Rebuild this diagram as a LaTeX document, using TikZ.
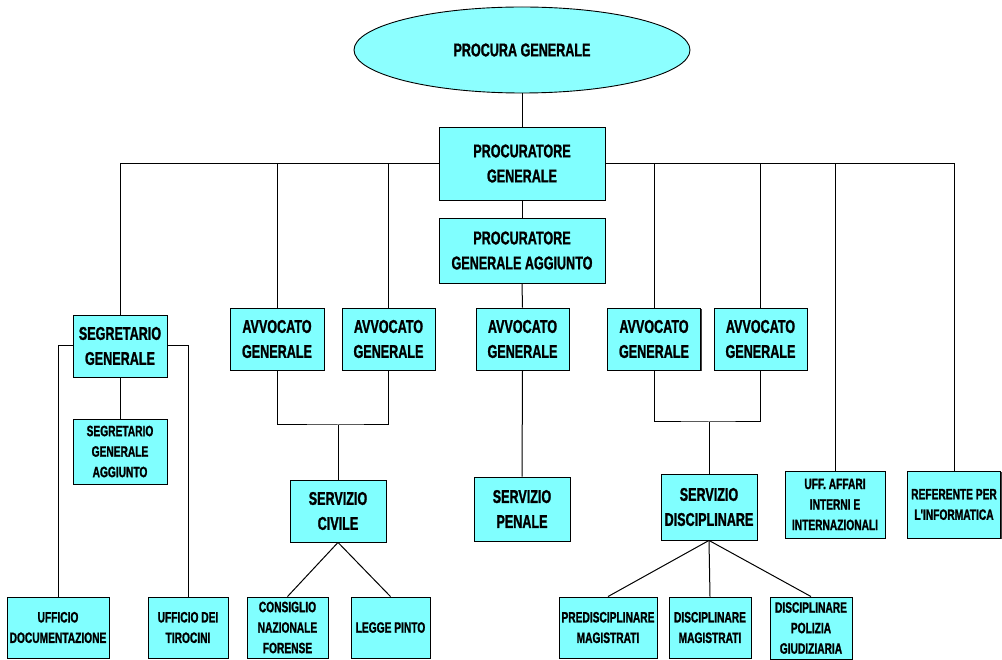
\documentclass[tikz,border=0pt]{standalone}
\usepackage{fontspec}
\newfontfamily\lab{Liberation Sans}[FakeStretch=0.68, BoldFeatures={FakeBold=1.2}]
\usetikzlibrary{shapes.geometric,shadows}
\definecolor{boxcyan}{HTML}{80FFFF}
\definecolor{ellcyan}{HTML}{8CFFFF}
\tikzset{
  orgbox/.style={draw=black, line width=0.9pt, fill=boxcyan, align=center, inner sep=0pt,
    drop shadow={shadow xshift=1.3pt, shadow yshift=-1.3pt, fill=black!75, opacity=1}},
  bigtxt/.style={font=\lab\bfseries\fontsize{18.5}{25}\selectfont},
  smalltxt/.style={font=\lab\bfseries\fontsize{15}{20.5}\selectfont},
  link/.style={draw=black, line width=1pt},
}
\begin{document}
\begin{tikzpicture}[x=1pt,y=-1pt]
\useasboundingbox (0,0) rectangle (1002,660);
% top
\node[ellipse, draw=black, line width=0.9pt, fill=ellcyan, minimum width=336, minimum height=86, inner sep=0pt, bigtxt] (pc) at (522,50) {PROCURA GENERALE};
\node[orgbox, bigtxt, minimum width=166, minimum height=73] (pg) at (522,163.5) {PROCURATORE\\GENERALE};
\node[orgbox, bigtxt, minimum width=166, minimum height=65] (pga) at (522,250.5) {PROCURATORE\\GENERALE AGGIUNTO};
% avvocati
\node[orgbox, bigtxt, minimum width=94, minimum height=62] (ag1) at (277,339) {AVVOCATO\\GENERALE};
\node[orgbox, bigtxt, minimum width=93, minimum height=62] (ag2) at (388.5,339) {AVVOCATO\\GENERALE};
\node[orgbox, bigtxt, minimum width=93, minimum height=62] (ag3) at (522.5,339) {AVVOCATO\\GENERALE};
\node[orgbox, bigtxt, minimum width=93, minimum height=62] (ag4) at (654,339) {AVVOCATO\\GENERALE};
\node[orgbox, bigtxt, minimum width=93, minimum height=62] (ag5) at (760.5,339) {AVVOCATO\\GENERALE};
% segretario
\node[orgbox, bigtxt, minimum width=94, minimum height=62] (sg) at (120,346) {SEGRETARIO\\GENERALE};
\node[orgbox, smalltxt, minimum width=94, minimum height=65] (sga) at (120,451.5) {SEGRETARIO\\GENERALE\\AGGIUNTO};
\node[orgbox, smalltxt, minimum width=102, minimum height=61] (ud) at (58,627.5) {UFFICIO\\DOCUMENTAZIONE};
\node[orgbox, smalltxt, minimum width=80, minimum height=61] (ut) at (188,627.5) {UFFICIO DEI\\TIROCINI};
% servizi
\node[orgbox, bigtxt, minimum width=96, minimum height=62] (sc) at (338,511) {SERVIZIO\\CIVILE};
\node[orgbox, smalltxt, minimum width=81, minimum height=61] (cnf) at (287.5,627.5) {CONSIGLIO\\NAZIONALE\\FORENSE};
\node[orgbox, smalltxt, minimum width=79, minimum height=61] (lp) at (390.5,627.5) {LEGGE PINTO};
\node[orgbox, bigtxt, minimum width=96, minimum height=64] (sp) at (522,509) {SERVIZIO\\PENALE};
\node[orgbox, bigtxt, minimum width=96, minimum height=66] (sd) at (709,507) {SERVIZIO\\DISCIPLINARE};
\node[orgbox, smalltxt, minimum width=98, minimum height=61] (pm) at (608,627.5) {PREDISCIPLINARE\\MAGISTRATI};
\node[orgbox, smalltxt, minimum width=82, minimum height=61] (dm) at (710,627.5) {DISCIPLINARE\\MAGISTRATI};
\node[orgbox, smalltxt, minimum width=82, minimum height=62] (dpg) at (811,628) {DISCIPLINARE\\POLIZIA\\GIUDIZIARIA};
\node[orgbox, smalltxt, minimum width=100, minimum height=67] (uff) at (835,504.5) {UFF. AFFARI\\INTERNI E\\INTERNAZIONALI};
\node[orgbox, smalltxt, minimum width=93, minimum height=67] (ref) at (954,504.5) {REFERENTE PER\\L'INFORMATICA};
% junction points
\coordinate (j1) at (338,425);
\coordinate (j2) at (709,422);
% connectors
\draw[link] (pc.south) -- (pg.north);
\draw[link] (pg.west) -| (sg.north);
\draw[link] (pg.west) -| (ag1.north);
\draw[link] (pg.west) -| (ag2.north);
\draw[link] (pg.east) -| (ag4.north);
\draw[link] (pg.east) -| (ag5.north);
\draw[link] (pg.east) -| (uff.north);
\draw[link] (pg.east) -| (ref.north);
\draw[link] (pg.south) -- (pga.north);
\draw[link] (pga.south) -- (ag3.north);
\draw[link] (ag3.south) -- (sp.north);
\draw[link] (ag1.south) |- (j1) -| (ag2.south);
\draw[link] (j1) -- (sc.north);
\draw[link] (ag4.south) |- (j2) -| (ag5.south);
\draw[link] (j2) -- (sd.north);
\draw[link] (sg.west) -| (ud.north);
\draw[link] (sg.east) -| (ut.north);
\draw[link] (sg.south) -- (sga.north);
\draw[link] (sc.south) -- (cnf.north);
\draw[link] (sc.south) -- (lp.north);
\draw[link] (sd.south) -- (pm.north);
\draw[link] (sd.south) -- (dm.north);
\draw[link] (sd.south) -- (dpg.north);
\end{tikzpicture}
\end{document}
